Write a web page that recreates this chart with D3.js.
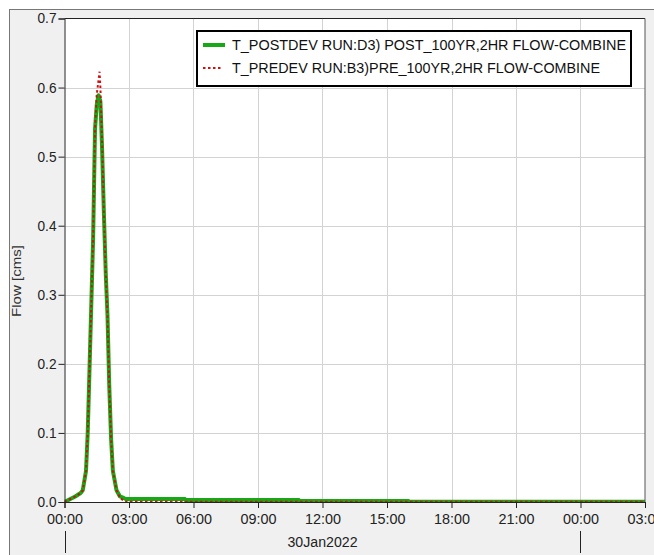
<!DOCTYPE html>
<html><head><meta charset="utf-8">
<script src="https://cdn.jsdelivr.net/npm/d3@7"></script>
<style>body{margin:0;background:#fff;}svg{display:block;font-family:"Liberation Sans",Arial,sans-serif;}</style>
</head><body><svg id="c" width="654" height="555"></svg>
<script>
// hours after 30Jan2022 00:00
const postHours = [0,0.25,0.5,0.75,0.85,1.0,1.08,1.17,1.25,1.33,1.42,1.5,1.58,1.67,1.75,1.83,1.92,2.0,2.08,2.17,2.25,2.42,2.58,2.75,2.83,5.6,5.62,10.9,10.92,16.0,16.02,27];
const postFlow  = [0,0.004,0.008,0.013,0.017,0.045,0.10,0.20,0.29,0.38,0.54,0.575,0.589,0.58,0.51,0.42,0.33,0.27,0.17,0.09,0.045,0.017,0.008,0.006,0.0045,0.0045,0.003,0.003,0.0015,0.0015,0.0003,0.0003];
const preHours = [0,0.25,0.5,0.75,0.85,1.0,1.08,1.17,1.25,1.33,1.42,1.5,1.58,1.63,1.67,1.75,1.83,1.92,2.0,2.08,2.17,2.25,2.42,2.58,2.75,2.83,27];
const preFlow  = [0,0.004,0.008,0.013,0.017,0.045,0.10,0.20,0.29,0.38,0.54,0.59,0.61,0.623,0.60,0.52,0.42,0.33,0.27,0.17,0.09,0.045,0.017,0.006,0.002,0.0003,0.0003];
const yTicks = [0,0.1,0.2,0.3,0.4,0.5,0.6,0.7];
const seriesNames = ["T_POSTDEV RUN:D3) POST_100YR,2HR FLOW-COMBINE","T_PREDEV RUN:B3)PRE_100YR,2HR FLOW-COMBINE"];
const yLabel = "Flow [cms]";
const dateLabel = "30Jan2022";

const svg = d3.select("#c");
const t0 = Date.UTC(2022,0,30,0,0);
const toDate = h => new Date(t0 + h*3600000);
const L=64.5, R=645, T=18.5, B=502;

svg.append("rect").attr("x",9.5).attr("y",9.5).attr("width",660).attr("height",560).attr("fill","#f0f0f0").attr("stroke","#777");
svg.append("rect").attr("x",L).attr("y",T).attr("width",R-L).attr("height",B-T).attr("fill","#fff");

const x = d3.scaleUtc().domain([toDate(0),toDate(27)]).range([L,R]);
const y = d3.scaleLinear().domain([0,0.7]).range([B,T]);
const xTicks = d3.range(0,28,3).map(toDate);

// grid
svg.append("g").selectAll("line").data(xTicks.slice(1,-1)).join("line")
  .attr("x1",d=>Math.round(x(d))+0.5).attr("x2",d=>Math.round(x(d))+0.5).attr("y1",T).attr("y2",B).attr("stroke","#d3d3d3");
svg.append("g").selectAll("line").data(yTicks.slice(1,-1)).join("line")
  .attr("y1",d=>Math.round(y(d))+0.5).attr("y2",d=>Math.round(y(d))+0.5).attr("x1",L).attr("x2",R).attr("stroke","#d3d3d3");

const line = d3.line().x(d=>x(toDate(d[0]))).y(d=>y(d[1]));
svg.append("clipPath").attr("id","cp").append("rect").attr("x",L).attr("y",T-10).attr("width",R-L).attr("height",B-T+10);
svg.append("path").attr("clip-path","url(#cp)").datum(postHours.map((h,i)=>[h,postFlow[i]])).attr("d",line)
  .attr("fill","none").attr("stroke","#17a817").attr("stroke-width",4).attr("stroke-linejoin","round");
svg.append("path").attr("clip-path","url(#cp)").datum(preHours.map((h,i)=>[h,preFlow[i]])).attr("d",line)
  .attr("fill","none").attr("stroke","#d01010").attr("stroke-width",2).attr("stroke-dasharray","2.5,2.5");

// frame of plot
svg.append("line").attr("x1",L).attr("x2",R).attr("y1",T).attr("y2",T).attr("stroke","#222");
svg.append("line").attr("x1",R).attr("x2",R).attr("y1",T).attr("y2",B).attr("stroke","#555");

const fmt = d3.utcFormat("%H:%M");
const xa = svg.append("g").attr("transform",`translate(0,${B})`).call(d3.axisBottom(x).tickValues(xTicks).tickFormat(fmt).tickSize(6).tickPadding(6));
const ya = svg.append("g").attr("transform",`translate(${L},0)`).call(d3.axisLeft(y).tickValues(yTicks).tickFormat(d3.format(".1f")).tickSize(6).tickPadding(2));
[xa,ya].forEach(a=>{a.selectAll("path,line").attr("stroke","#222");a.selectAll("text").attr("fill","#222").attr("font-size",14).attr("font-family","Liberation Sans, Arial, sans-serif").attr("lengthAdjust","spacingAndGlyphs");});
xa.selectAll(".tick text").attr("textLength",36);
ya.selectAll(".tick text").attr("textLength",19);

svg.append("text").attr("transform",`translate(21,281) rotate(-90)`).attr("text-anchor","middle").attr("font-size",13).attr("fill","#333")
  .attr("textLength",72).attr("lengthAdjust","spacingAndGlyphs").text(yLabel);
svg.append("text").attr("x",(x(toDate(0))+x(toDate(24)))/2).attr("y",547).attr("text-anchor","middle").attr("font-size",14).attr("fill","#222")
  .attr("textLength",70).attr("lengthAdjust","spacingAndGlyphs").text(dateLabel);
[0,24].forEach(h=>svg.append("line").attr("x1",Math.round(x(toDate(h)))+0.5).attr("x2",Math.round(x(toDate(h)))+0.5).attr("y1",531).attr("y2",553).attr("stroke","#222"));

// legend
const lg = svg.append("g");
lg.append("rect").attr("x",197).attr("y",31).attr("width",434).attr("height",55).attr("fill","#fff").attr("stroke","#000").attr("stroke-width",2);
lg.append("line").attr("x1",203).attr("x2",225).attr("y1",45).attr("y2",45).attr("stroke","#17a817").attr("stroke-width",4);
lg.append("line").attr("x1",203).attr("x2",223).attr("y1",68).attr("y2",68).attr("stroke","#d01010").attr("stroke-width",2).attr("stroke-dasharray","2.5,2.5");
const legLens = [394, 368];
lg.selectAll("text").data(seriesNames).join("text").attr("x",232).attr("y",(d,i)=>50+i*23).attr("font-size",14).attr("fill","#111")
  .attr("textLength",(d,i)=>legLens[i]).attr("lengthAdjust","spacingAndGlyphs").text(d=>d);
</script></body></html>
